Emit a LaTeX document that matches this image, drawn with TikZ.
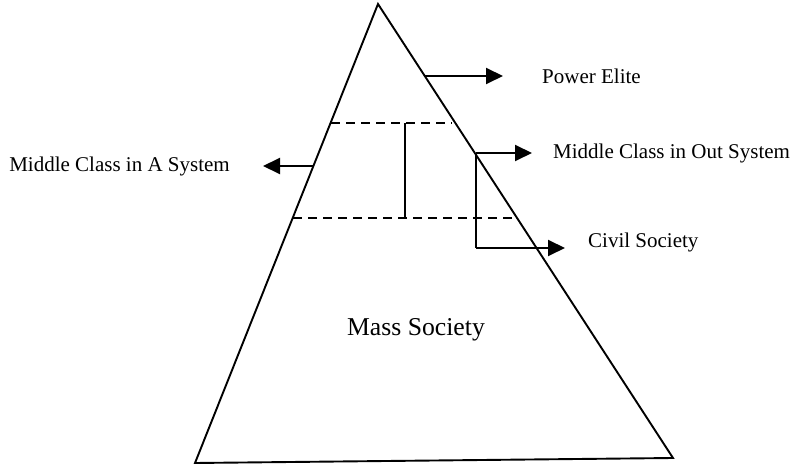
\documentclass[tikz,border=0pt]{standalone}
\usepackage{fontspec}
\setmainfont{Liberation Serif}
\usetikzlibrary{arrows.meta}
\tikzset{
	edge/.style={line width=1.9pt, line join=miter},
	level/.style={line width=1.9pt, dash pattern=on 9pt off 6pt},
	pointer/.style={line width=1.9pt, -{Triangle[length=17pt,width=16pt]}},
	label/.style={inner sep=0pt, font=\fontsize{21}{24}\selectfont},
}
\begin{document}
\begin{tikzpicture}[x=1pt,y=-1pt]
	\useasboundingbox (0,0) rectangle (796,465);

	% pyramid
	\coordinate (top) at (378,4);
	\coordinate (bl) at (195,463);
	\coordinate (br) at (673,458);
	\draw[edge] (top) -- (br) -- (bl) -- cycle;

	% levels
	\coordinate (u1) at (331,123);
	\coordinate (u2) at (452,123);
	\coordinate (d1) at (293,218);
	\coordinate (d2) at (514,218);
	\draw[level] (u1) -- (u2);
	\draw[level] (d1) -- (d2);
	\draw[edge] (405,123) -- (405,218);

	% labels
	\node[label, anchor=west] (elite) at (542,76) {Power Elite};
	\node[label, anchor=west] (outsys) at (553,153) {Middle Class in Out System};
	\node[label, anchor=west] (civil) at (588,242) {Civil Society};
	\node[label, anchor=east] (insys) at (230,166) {Middle Class in A System};
	\node[inner sep=0pt, font=\fontsize{25.7}{30}\selectfont] (mass) at (416,330) {Mass Society};

	% arrows
	\coordinate (e0) at (425,76);
	\coordinate (e1) at (503,76);
	\draw[pointer] (e0) -- (e1);
	\coordinate (o0) at (476,153);
	\coordinate (o1) at (532,153);
	\draw[pointer] (o0) -- (o1);
	\coordinate (c0) at (476,248);
	\coordinate (c1) at (565,248);
	\draw[edge] (o0) -- (c0);
	\draw[pointer] (c0) -- (c1);
	\coordinate (a0) at (313,166);
	\coordinate (a1) at (263,166);
	\draw[pointer] (a0) -- (a1);

\end{tikzpicture}
\end{document}
